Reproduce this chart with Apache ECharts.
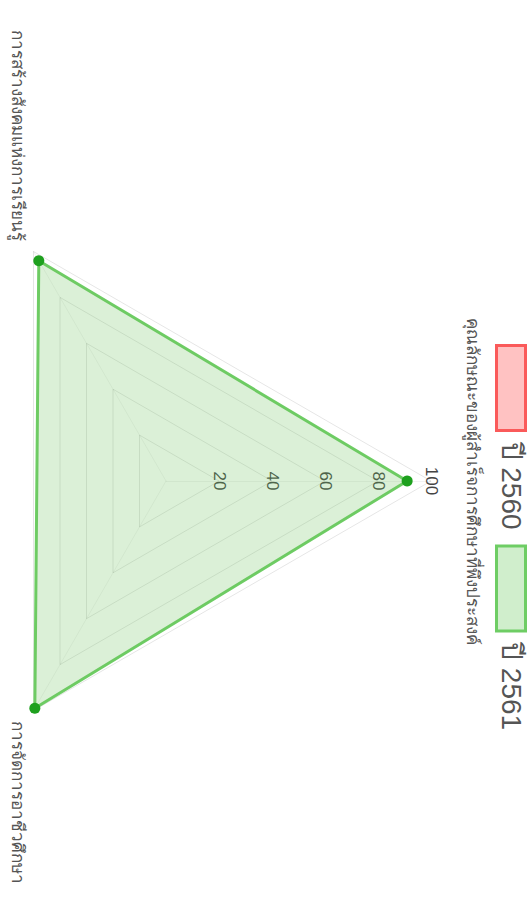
<!DOCTYPE html>
<html>
<head>
<meta charset="utf-8">
<script src="https://cdn.jsdelivr.net/npm/echarts@6/dist/echarts.min.js"></script>
<style>
html,body{margin:0;padding:0;background:#fff;width:531px;height:907px;overflow:hidden;position:relative;}
#wrap{position:absolute;left:0;top:0;width:907px;height:600px;transform-origin:0 0;transform:translate(531px,0) rotate(90deg);}
#chart{width:907px;height:600px;}
</style>
</head>
<body>
<div id="wrap"><div id="chart"></div></div>
<script>
const indicatorNames = ['คุณลักษณะของผู้สำเร็จการศึกษาที่พึงประสงค์', 'การสร้างสังคมแห่งการเรียนรู้', 'การจัดการอาชีวศึกษา'];
const indicatorMax = 100;
const seriesNames = ['ปี 2560', 'ปี 2561'];
const values2560 = [];
const values2561 = [91, 96, 99];
const tickValues = [0, 20, 40, 60, 80, 100];

const chart = echarts.init(document.getElementById('chart'), null, {renderer: 'svg'});
const font = "'Liberation Sans', 'Noto Sans', 'DejaVu Sans', sans-serif";
chart.setOption({
  animation: false,
  textStyle: {fontFamily: font},
  legend: {
    left: 344, top: 4, padding: 0, icon: 'rect', itemWidth: 85, itemHeight: 29, itemGap: 15,
    textStyle: {fontSize: 28, color: '#555', fontFamily: font, padding: [0, 0, 0, 6]},
    data: [
      {name: seriesNames[0], itemStyle: {color: 'rgba(255,120,120,0.45)', borderColor: 'rgb(250,90,90)', borderWidth: 3}},
      {name: seriesNames[1], itemStyle: {color: 'rgba(120,205,110,0.35)', borderColor: 'rgb(110,205,100)', borderWidth: 3}}
    ]
  },
  radar: {
    center: [481, 365],
    radius: 265,
    startAngle: 90,
    splitNumber: 5,
    shape: 'polygon',
    nameGap: 12,
    axisName: {
      color: '#555', fontSize: 17, lineHeight: 20, fontFamily: font, padding: [0, 0, 19, 0],
      formatter: (v) => (indicatorNames.indexOf(v) > 0 ? '\n' + v : v)
    },
    splitLine: {lineStyle: {color: 'rgba(0,0,0,0.1)', width: 1}},
    splitArea: {show: false},
    axisLine: {lineStyle: {color: 'rgba(0,0,0,0.05)'}},
    axisTick: {show: false},
    axisLabel: {show: false},
    indicator: indicatorNames.map((n, i) => ({
      name: n, max: indicatorMax, min: 0,
      axisLabel: i === 0 ? {
        show: true, margin: 0, align: 'center', verticalAlign: 'middle', rotate: 0,
        fontSize: 17, color: '#444', fontFamily: font,
        formatter: v => (tickValues.indexOf(v) > 0 ? String(v) : '')
      } : {show: false}
    }))
  },
  series: [
    {name: seriesNames[0], type: 'radar', color: 'rgb(250,90,90)', data: values2560.length ? [{value: values2560}] : []},
    {name: seriesNames[1], type: 'radar', color: 'rgb(110,205,100)',
      symbol: 'circle', symbolSize: 11,
      itemStyle: {color: 'rgb(30,160,30)'},
      lineStyle: {color: 'rgb(110,205,100)', width: 3},
      areaStyle: {color: 'rgba(110,195,95,0.36)'},
      data: [{value: values2561, name: seriesNames[1]}]}
  ]
});
</script>
</body>
</html>
